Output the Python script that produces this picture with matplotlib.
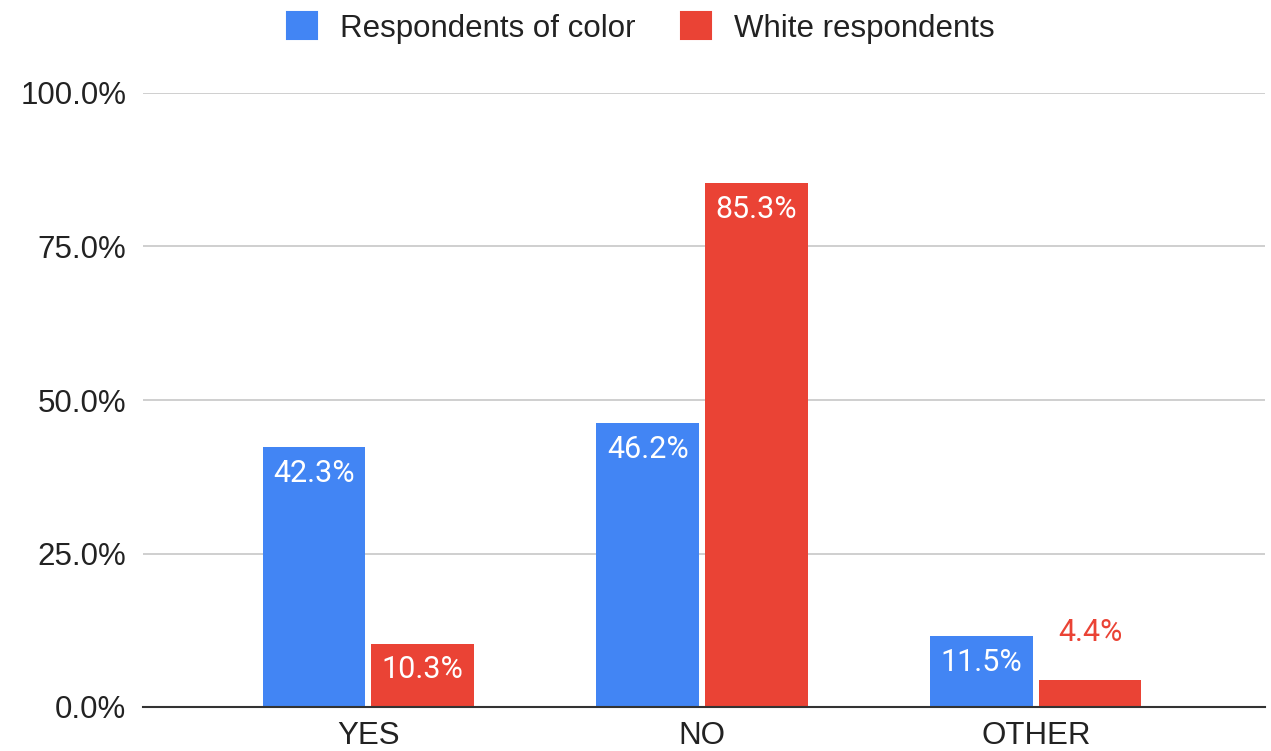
import numpy as np
import matplotlib
matplotlib.use("Agg")
import matplotlib.pyplot as plt
from matplotlib.patches import Patch

categories = ["YES", "NO", "OTHER"]
series_names = ["Respondents of color", "White respondents"]
color_vals = [42.3, 46.2, 11.5]
white_vals = [10.3, 85.3, 4.4]
yticks = [0, 25, 50, 75, 100]

blue = "#4285f4"
red = "#ea4335"

plt.rcParams["font.family"] = ["Liberation Sans", "DejaVu Sans"]

fig = plt.figure(figsize=(12.71, 7.51), dpi=100)
ax = fig.add_axes([143 / 1271, 1 - 707 / 751, (1265 - 143) / 1271, (707 - 93) / 751])

x = np.arange(len(categories))
w = 0.307
gap = 0.009
b1 = ax.bar(x - w / 2 - gap, color_vals, w, color=blue, zorder=3)
b2 = ax.bar(x + w / 2 + gap, white_vals, w, color=red, zorder=3)

val_font = ["Roboto", "DejaVu Sans"]
for bars, vals, col in [(b1, color_vals, blue), (b2, white_vals, red)]:
    for rect, v in zip(bars, vals):
        cx = rect.get_x() + rect.get_width() / 2
        if v > 8:
            # label sits inside the bar near its top
            ax.text(cx, v - 4.2, f"{v:.1f}%", ha="center", va="center", color="white",
                    fontsize=22, family=val_font, zorder=4)
        else:
            ax.text(cx, v + 7.8, f"{v:.1f}%", ha="center", va="center", color=col,
                    fontsize=22, family=val_font, zorder=4)

ax.set_xlim(-0.674, 2.686)
ax.set_ylim(0, 100)
ax.set_yticks(yticks)
ax.set_yticklabels([f"{t:.1f}%" for t in yticks], fontsize=22.5, color="#222222")
ax.set_xticks(x)
ax.set_xticklabels(categories, fontsize=22.5, color="#222222")
ax.tick_params(axis="both", length=0)
ax.tick_params(axis="y", pad=12)
ax.tick_params(axis="x", pad=10)
ax.yaxis.grid(True, color="#cccccc", linewidth=1.3, zorder=0)
for s in ["top", "right", "left"]:
    ax.spines[s].set_visible(False)
ax.spines["bottom"].set_color("#333333")
ax.spines["bottom"].set_linewidth(1.5)
ax.spines["bottom"].set_zorder(5)

handles = [Patch(facecolor=blue, edgecolor=blue, linewidth=1.5, joinstyle="round",
                 label=series_names[0]),
           Patch(facecolor=red, edgecolor=red, linewidth=1.5, joinstyle="round",
                 label=series_names[1])]
fig.legend(handles=handles, loc="center", bbox_to_anchor=(641 / 1271, 1 - 28 / 751),
           ncol=2, frameon=False, fontsize=22.5, handlelength=0.95, handleheight=0.95,
           handletextpad=0.75, columnspacing=1.45, labelcolor="#222222",
           borderpad=0.2)

fig.savefig("out.png", dpi=100)
